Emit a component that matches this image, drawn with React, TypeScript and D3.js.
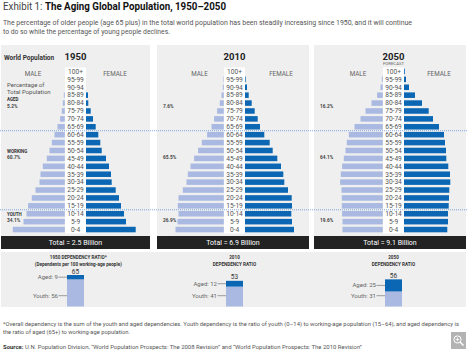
import React from "react";
import * as d3 from "d3";

const ages = ["100+","95-99","90-94","85-89","80-84","75-79","70-74","65-69","60-64","55-59","50-54","45-49","40-44","35-39","30-34","25-29","20-24","15-19","10-14","5-9","0-4"];

// relative population (bar length units) by age group, oldest first
const male1950 = [0,0,0,1,2,3,4.7,7.3,10.3,13,15.3,18,22,24.3,25.3,29.3,33,36.7,38.3,41.3,52];
const female1950 = [0,0,0,2,2.3,4.7,7,9.7,12.3,14.3,15.7,20,23,25,25.7,29.7,33,35,38,40,49.7];
const male2010 = [0,0.5,1,2.3,4,6.7,9.7,12.3,16.7,22,25.7,29.7,33.3,36,37.3,41,45.3,46,45.3,46.3,48.3];
const female2010 = [0,0.7,2,3.7,6.7,9.7,12.7,15,19.3,24.7,27.7,32.3,36,38.3,39.3,43,46.7,47,46.3,47,49];
const male2050 = [0,1,2.3,5.7,11.3,17.3,22.3,28.3,34,36,37.3,39,40.7,42,42.7,41.3,41,41,40.7,40.3,40.3];
const female2050 = [0.8,2,5,11,18,24.7,29,35,40,41,42,42.3,44.3,46,46.3,45.3,45,44.7,44,44,43.3];

const years = ["1950","2010","2050"];
const totals = ["Total = 2.5 Billion","Total = 6.9 Billion","Total = 9.1 Billion"];
const agedPct = ["5.2%","7.6%","16.2%"];
const workingPct = ["60.7%","65.5%","64.1%"];
const youthPct = ["34.1%","26.9%","19.6%"];

const depAged = [9,12,25];
const depYouth = [56,41,31];
const depTitles = [["1950 DEPENDENCY RATIO*","(Dependents per 100 working-age people)"],["2010","DEPENDENCY RATIO"],["2050","DEPENDENCY RATIO"]];

const maleSeries = [male1950, male2010, male2050];
const femaleSeries = [female1950, female2010, female2050];

// layout
const panels = [
  { x0: 1, x1: 150, cx: 75.5, pctX: 7, maleX: 33, femX: 115 },
  { x0: 157, x1: 309, cx: 234.5, pctX: 163, maleX: 199.5, femX: 281 },
  { x0: 314, x1: 466, cx: 393.5, pctX: 320, maleX: 358, femX: 439 },
];

const FONT = "'Liberation Sans Narrow', Roboto, 'DejaVu Sans', sans-serif";
const MALE_C = "#a9b9e2";
const FEM_C = "#0b67b3";

export default function App() {
  const y = d3.scaleBand<string>().domain(ages).range([67.5, 233.5]).paddingInner(0.3).paddingOuter(0.15);
  const x = d3.scaleLinear().domain([0, 50]).range([0, 50]);
  const bw = y.bandwidth();
  const rowC = (a: string) => (y(a) as number) + bw / 2;
  const step = y.step();
  const line1 = rowC("65-69") + step / 2;
  const line2 = rowC("15-19") + step / 2;

  const dy = d3.scaleLinear().domain([0, 65]).range([306.5, 275]);
  const depBarW = 17;

  return (
    <svg width={468} height={350} style={{ position: "absolute", left: 0, top: 0, fontFamily: FONT }}>
      <rect width={468} height={350} fill="#fff" />
      <text x={3} y={10} fontSize={10.5} textLength={223} lengthAdjust="spacingAndGlyphs">
        <tspan fill="#444">Exhibit 1: </tspan>
        <tspan fill="#111" fontWeight="bold">The Aging Global Population, 1950–2050</tspan>
      </text>
      <text x={3} y={24.5} fontSize={6.3} fill="#555" textLength={409} lengthAdjust="spacingAndGlyphs">
        The percentage of older people (age 65 plus) in the total world population has been steadily increasing since 1950, and it will continue
      </text>
      <text x={3} y={33.5} fontSize={6.3} fill="#555" textLength={167} lengthAdjust="spacingAndGlyphs">
        to do so while the percentage of young people declines.
      </text>

      {panels.map((p, i) => (
        <g key={years[i]}>
          <rect x={p.x0} y={45} width={p.x1 - p.x0} height={191} fill="#efefef" />
          <rect x={p.cx - 10.5} y={67.5} width={21} height={166} fill="#fff" />
          <rect x={p.x0} y={236} width={p.x1 - p.x0} height={13} fill="#222" />
          <text x={(p.x0 + p.x1) / 2} y={245} fontSize={7} fill="#fff" textAnchor="middle">{totals[i]}</text>
          <text x={p.cx} y={59.5} fontSize={9.5} fontWeight="bold" fill="#222" textAnchor="middle">{years[i]}</text>
          {i === 2 && <text x={p.cx} y={65} fontSize={4.3} fill="#666" textAnchor="middle">FORECAST</text>}
          <text x={p.maleX} y={75.5} fontSize={6.3} fill="#666" textAnchor="middle">MALE</text>
          <text x={p.femX} y={75.5} fontSize={6.3} fill="#666" textAnchor="middle">FEMALE</text>
          {ages.map((a, j) => (
            <g key={a}>
              {maleSeries[i][j] > 0 && (
                <rect x={p.cx - 10.7 - x(maleSeries[i][j])} y={y(a)} width={x(maleSeries[i][j])} height={bw} fill={MALE_C} />
              )}
              {femaleSeries[i][j] > 0 && (
                <rect x={p.cx + 10.5} y={y(a)} width={x(femaleSeries[i][j])} height={bw} fill={FEM_C} />
              )}
              <text x={p.cx} y={rowC(a) + 2.3} fontSize={6.6} fill="#555" textAnchor="middle">{a}</text>
            </g>
          ))}
          {i === 0 && (
            <g fill="#555">
              <text x={7} y={86.5} fontSize={6}>Percentage of</text>
              <text x={7} y={93.5} fontSize={6}>Total Population</text>
              <text x={7} y={101} fontSize={4.5} fontWeight="bold" fill="#333">AGED</text>
              <text x={7} y={152.5} fontSize={4.5} fontWeight="bold" fill="#333">WORKING</text>
              <text x={7} y={216} fontSize={4.5} fontWeight="bold" fill="#333">YOUTH</text>
            </g>
          )}
          <text x={p.pctX} y={107.5} fontSize={4.8} fontWeight="bold" fill="#444">{agedPct[i]}</text>
          <text x={p.pctX} y={159} fontSize={4.8} fontWeight="bold" fill="#444">{workingPct[i]}</text>
          <text x={p.pctX} y={222} fontSize={4.8} fontWeight="bold" fill="#444">{youthPct[i]}</text>
        </g>
      ))}

      <text x={4} y={59.5} fontSize={6.5} fontWeight="bold" fill="#333">World Population</text>

      <line x1={0} x2={468} y1={line1} y2={line1} stroke="#5f93d4" strokeWidth={0.8} strokeDasharray="1,1" />
      <line x1={0} x2={468} y1={line2} y2={line2} stroke="#5f93d4" strokeWidth={0.8} strokeDasharray="1,1" />

      <rect x={1} y={252} width={465} height={55} fill="#efefef" />
      {panels.map((p, i) => {
        const total = depAged[i] + depYouth[i];
        const bx = p.cx - depBarW / 2;
        const yTop = dy(total);
        const ySplit = dy(depYouth[i]);
        const yBase = dy(0);
        const tx = i === 0 ? 78.3 : p.cx;
        const agedY = (yTop + ySplit) / 2;
        return (
          <g key={"dep" + i}>
            <text x={tx} y={259} fontSize={4.6} fontWeight="bold" fill="#333" textAnchor="middle">{depTitles[i][0]}</text>
            <text x={tx} y={266} fontSize={4.6} fontWeight="bold" fill="#333" textAnchor="middle">{depTitles[i][1]}</text>
            <rect x={bx} y={ySplit} width={depBarW} height={yBase - ySplit} fill={MALE_C} />
            <rect x={bx} y={yTop} width={depBarW} height={ySplit - yTop} fill={FEM_C} />
            <text x={p.cx} y={yTop - 1.5} fontSize={6.5} fill="#333" textAnchor="middle">{total}</text>
            <line x1={bx - 8.5} x2={bx} y1={agedY} y2={agedY} stroke="#777" strokeWidth={0.7} />
            <text x={bx - 9} y={agedY + 2} fontSize={6} fill="#666" textAnchor="end">{"Aged: " + depAged[i]}</text>
            <line x1={bx - 8.5} x2={bx} y1={295.7} y2={295.7} stroke="#777" strokeWidth={0.7} />
            <text x={bx - 9} y={297.7} fontSize={6} fill="#666" textAnchor="end">{"Youth: " + depYouth[i]}</text>
          </g>
        );
      })}

      <text x={3} y={326} fontSize={5.6} fill="#555" textLength={456} lengthAdjust="spacingAndGlyphs">
        *Overall dependency is the sum of the youth and aged dependencies. Youth dependency is the ratio of youth (0–14) to working-age population (15–64), and aged dependency is
      </text>
      <text x={3} y={334} fontSize={5.6} fill="#555" textLength={127} lengthAdjust="spacingAndGlyphs">
        the ratio of aged (65+) to working-age population.
      </text>
      <text x={3} y={348.5} fontSize={5.6} fill="#555" textLength={359} lengthAdjust="spacingAndGlyphs">
        <tspan fontWeight="bold" fill="#333">Source: </tspan>
        U.N. Population Division, “World Population Prospects: The 2008 Revision” and “World Population Prospects: The 2010 Revision”
      </text>

      <g>
        <rect x={451} y={332} width={15} height={17} fill="#b3b3b3" />
        <circle cx={457.5} cy={339.5} r={3.6} fill="none" stroke="#fff" strokeWidth={1} />
        <line x1={460} y1={342} x2={463.5} y2={345.5} stroke="#fff" strokeWidth={1.4} />
        <line x1={455.7} x2={459.3} y1={339.5} y2={339.5} stroke="#fff" strokeWidth={0.8} />
        <line x1={457.5} x2={457.5} y1={337.7} y2={341.3} stroke="#fff" strokeWidth={0.8} />
      </g>
    </svg>
  );
}
